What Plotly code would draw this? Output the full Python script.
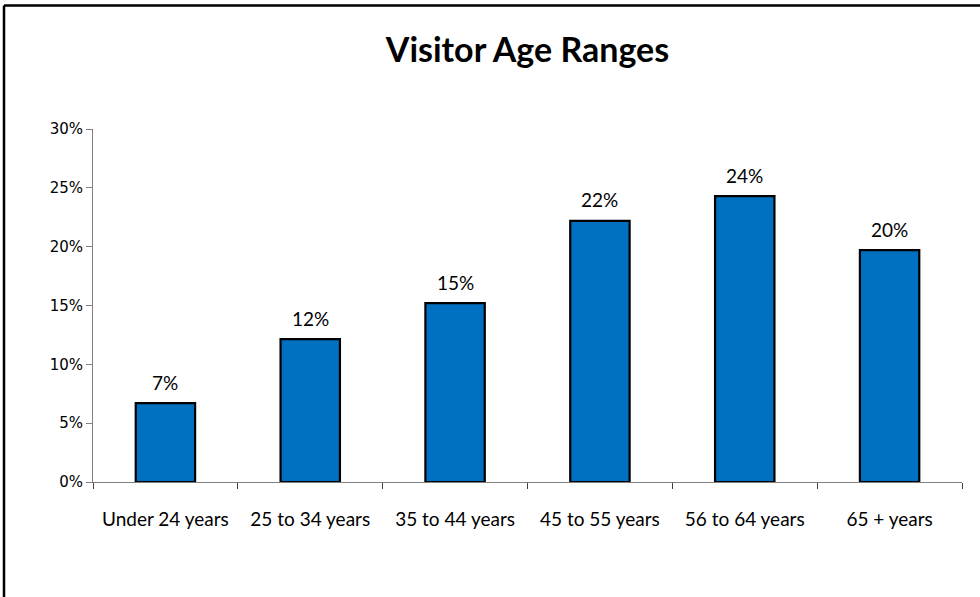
import plotly.graph_objects as go

categories = ["Under 24 years", "25 to 34 years", "35 to 44 years",
              "45 to 55 years", "56 to 64 years", "65 + years"]
values = [0.067, 0.1215, 0.152, 0.222, 0.243, 0.197]
labels = ["7%", "12%", "15%", "22%", "24%", "20%"]
y_ticks = [0, 0.05, 0.10, 0.15, 0.20, 0.25, 0.30]
y_tick_text = ["0%", "5%", "10%", "15%", "20%", "25%", "30%"]

W, H = 980, 597
L, R, T, B = 93, 18, 129, 115
pw, ph = W - L - R, H - T - B

fig = go.Figure()
fig.add_trace(go.Bar(
    x=categories, y=values,
    marker=dict(color="#0070C0", line=dict(color="black", width=2.2)),
    width=0.41,
    hoverinfo="skip",
))

for c, v, t in zip(categories, values, labels):
    fig.add_annotation(x=c, y=v, text=t, showarrow=False, yshift=21,
                       font=dict(family="Lato", size=19, color="black"))

def px_x(px):
    return (px - L) / pw

def px_y(py):
    return (H - B - py) / ph

fig.add_shape(type="line", xref="paper", yref="paper",
              x0=px_x(4), x1=px_x(990), y0=px_y(5.5), y1=px_y(5.5),
              line=dict(color="black", width=2.5))
fig.add_shape(type="line", xref="paper", yref="paper",
              x0=px_x(4), x1=px_x(4), y0=px_y(5.5), y1=px_y(610),
              line=dict(color="black", width=2.5))

fig.update_layout(
    width=W, height=H,
    margin=dict(l=L, r=R, t=T, b=B),
    paper_bgcolor="white", plot_bgcolor="white",
    showlegend=False,
    title=dict(text="<b>Visitor Age Ranges</b>", x=0.5, xref="paper", xanchor="center",
               y=1 - 50 / H, yref="container", yanchor="middle",
               font=dict(family="Lato", size=34, color="black")),
    xaxis=dict(
        showline=True, linecolor="#808080", linewidth=1,
        ticks="outside", tickson="boundaries", ticklen=6, tickcolor="#404040",
        tickfont=dict(family="Lato", size=19, color="black"),
        ticklabelstandoff=20,
        showgrid=False, zeroline=False,
    ),
    yaxis=dict(
        range=[0, 0.30], tickvals=y_ticks, ticktext=y_tick_text,
        showline=True, linecolor="#808080", linewidth=1,
        ticks="outside", ticklen=6, tickcolor="#808080",
        tickfont=dict(family="DejaVu Sans", size=15, color="black"),
        showgrid=False, zeroline=False,
    ),
)

fig.write_html("out.html", config={"displayModeBar": False},
               post_script="document.body.style.margin='0';")
